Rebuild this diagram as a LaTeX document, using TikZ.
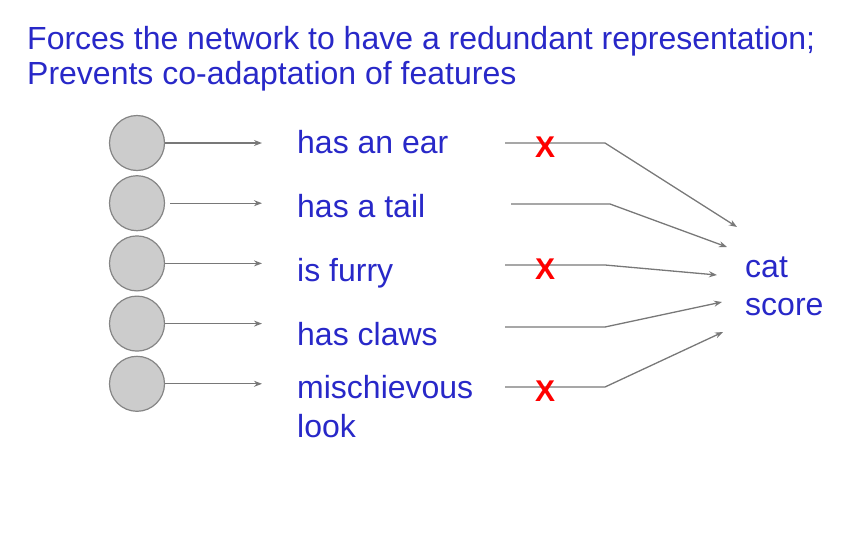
\documentclass[tikz,border=0pt]{standalone}
\usepackage{fontspec}
\setmainfont{Liberation Sans}
\usetikzlibrary{positioning,arrows.meta}
\definecolor{slideblue}{RGB}{40,40,200}
\definecolor{unitgray}{RGB}{204,204,204}
\definecolor{wiregray}{RGB}{120,120,120}
\tikzset{  unit/.style={circle,draw=wiregray!90,fill=unitgray,line width=1.2pt,minimum size=55pt,inner sep=0pt} }
\tikzset{  feat/.style={anchor=base west,inner sep=0pt,text=slideblue,align=left,font=\fontsize{32}{39}\selectfont} }
\tikzset{  wire/.style={draw=wiregray,line width=1.3pt} }
\tikzset{  drop/.style={inner sep=0pt,text=red,font=\fontsize{30}{30}\selectfont\bfseries} }

\begin{document}
\begin{tikzpicture}[x=1pt,y=-1pt,>={Stealth[length=8pt,width=6pt]}]
    \useasboundingbox (0,0) rectangle (862,536);
    \node[feat,font=\fontsize{32}{35}\selectfont] (title) at (27,84) {Forces the network to have a redundant representation;\\Prevents co-adaptation of features};
    \node[unit] (u1) at (137,143) {};
    \node[unit,below=4pt of u1] (u2) {};
    \node[unit,below=4pt of u2] (u3) {};
    \node[unit,below=4pt of u3] (u4) {};
    \node[unit,below=4pt of u4] (u5) {};
    \node[feat] (ear) at (297,153) {has an ear};
    \node[feat] (tail) at (297,217) {has a tail};
    \node[feat] (furry) at (297,281) {is furry};
    \node[feat] (claws) at (297,345) {has claws};
    \node[feat] (look) at (297,437) {mischievous\\look};
    \node[feat,font=\fontsize{32}{38}\selectfont] (score) at (745,315) {cat\\score};
    \draw[wire,->,shorten >=35pt] (u1.east) -- (u1.east -| ear.west);
    \draw[wire,->,shorten >=35pt,shorten <=5pt] (u2.east) -- (u2.east -| ear.west);
    \draw[wire,->,shorten >=35pt] (u3.east) -- (u3.east -| ear.west);
    \draw[wire,->,shorten >=35pt] (u4.east) -- (u4.east -| ear.west);
    \draw[wire,->,shorten >=35pt] (u5.east) -- (u5.east -| ear.west);
    \foreach \i/\sx/\kx/\wy/\tx/\ty in {1/505/605/143/737/227,2/511/610/204/727/247,3/505/605/265/717/275,4/505/605/327/722/302,5/505/605/387/723/332}{
        \coordinate (w\i) at (\sx,\wy);
        \coordinate (k\i) at (\kx,\wy);
        \coordinate (t\i) at (\tx,\ty);
        \draw[wire,->] (w\i) -- (k\i) -- (t\i);
    }
    \node[drop] (x1) at ([xshift=40pt,yshift=-4pt]w1) {X};
    \node[drop] (x3) at ([xshift=40pt,yshift=-4pt]w3) {X};
    \node[drop] (x5) at ([xshift=40pt,yshift=-4pt]w5) {X};
\end{tikzpicture}
\end{document}
